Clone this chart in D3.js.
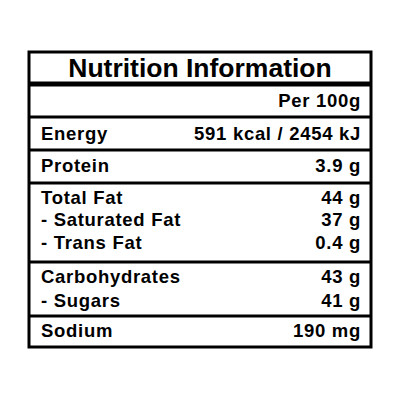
<!DOCTYPE html><html><head><meta charset="utf-8">
<script src="https://cdn.jsdelivr.net/npm/d3@7"></script>
<style>body{margin:0;background:#fff}</style></head><body><svg id="c" width="400" height="400"></svg>
<script>
const title = "Nutrition Information";
const header = "Per 100g";
const labels = ["Energy","Protein","Total Fat","- Saturated Fat","- Trans Fat","Carbohydrates","- Sugars","Sodium"];
const values = ["591 kcal / 2454 kJ","3.9 g","44 g","37 g","0.4 g","43 g","41 g","190 mg"];
const groups = [0,1,2,2,2,3,3,4];

const svg = d3.select("#c");
const L=29, R=371, T=52, B=347;
const font = "Liberation Sans, Arial, sans-serif";
const baselines = [140,172,204,226,249,283,307,337];
const sepY = [117,150,183,262,316];
const y = d3.scaleLinear().domain([0,1]).range([0,1]);

svg.append("rect").attr("x",L).attr("y",T).attr("width",R-L).attr("height",B-T)
  .attr("fill","none").attr("stroke","#000").attr("stroke-width",3);
svg.append("line").attr("x1",L).attr("x2",R).attr("y1",84).attr("y2",84).attr("stroke","#000").attr("stroke-width",5);
svg.selectAll(".sep").data(sepY).join("line").attr("x1",L).attr("x2",R)
  .attr("y1",d=>y(d)).attr("y2",d=>y(d)).attr("stroke","#000").attr("stroke-width",3);

svg.append("text").attr("x",(L+R)/2).attr("y",77).attr("text-anchor","middle")
  .attr("font-family",font).attr("font-weight","bold").attr("font-size",26.5).text(title);
const rowText = sel => sel.attr("font-family",font).attr("font-weight","bold").attr("font-size",18.5).attr("letter-spacing",0.7);
svg.append("text").attr("x",361).attr("y",107).attr("text-anchor","end").call(rowText).text(header);
svg.selectAll(".lab").data(labels).join("text").attr("x",41).attr("y",(d,i)=>y(baselines[i]))
  .call(rowText).text(d=>d);
svg.selectAll(".val").data(values).join("text").attr("x",361).attr("y",(d,i)=>y(baselines[i]))
  .attr("text-anchor","end").call(rowText).text(d=>d);
</script></body></html>
